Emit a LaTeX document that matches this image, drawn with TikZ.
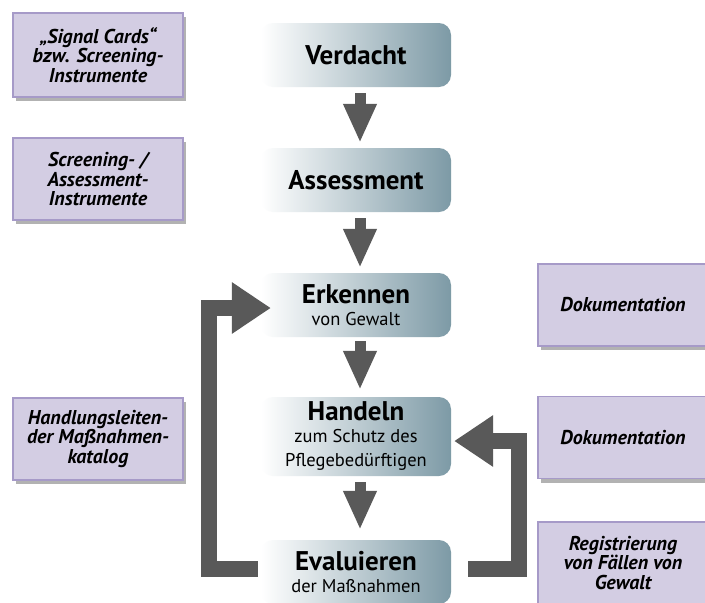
\documentclass[tikz,border=0pt]{standalone}
\usepackage{fontspec}
\setmainfont{PT Sans}
\usepackage{tikz}
\usetikzlibrary{arrows.meta,shadows}
\definecolor{Slate}{HTML}{7D9AA6}
\definecolor{Lilac}{HTML}{D3CDE3}
\definecolor{LilacEdge}{HTML}{A69AC8}
\definecolor{Graphite}{HTML}{595959}
\newcommand{\stagesub}{\fontsize{18.5}{21}\selectfont\mdseries}
\tikzset{
  stagebox/.style={rounded corners=12pt,minimum width=190pt,minimum height=64pt,align=center,
    inner sep=2pt,left color=white,right color=Slate,draw=none,
    font=\fontsize{27}{24}\selectfont\bfseries},
  notebox/.style={minimum width=170pt,minimum height=82pt,align=center,inner sep=2pt,
    fill=Lilac,draw=LilacEdge,line width=1.5pt,
    drop shadow={shadow xshift=3pt,shadow yshift=-4pt,fill=black,opacity=0.3},
    font=\fontsize{20}{19.5}\selectfont\bfseries\itshape},
  downflow/.style={-{Triangle[length=39pt,width=31pt]},line width=11pt,draw=Graphite},
  loopflow/.style={-{Triangle[length=39pt,width=49pt]},line width=16pt,draw=Graphite,line join=miter},
}

\begin{document}
\begin{tikzpicture}[x=1pt,y=-1pt]
    \useasboundingbox (0,0) rectangle (705,603);
    \clip (0,0) rectangle (705,603);
    \fill[white] (0,0) rectangle (705,603);

    % stages
    \node[stagebox] (verdacht) at (356,55) {Verdacht};
    \node[stagebox] (assessment) at (356,180) {Assessment};
    \node[stagebox] (erkennen) at (356,305) {Erkennen\\[-2pt]\stagesub von Gewalt};
    \node[stagebox,minimum height=79pt] (handeln) at (356,436.5) {Handeln\\[-2pt]\stagesub zum Schutz des\\\stagesub Pflegebedürftigen};
    \node[stagebox] (evaluieren) at (356,572) {Evaluieren\\[-2pt]\stagesub der Maßnahmen};

    % notes
    \node[notebox,minimum height=84pt] (signal) at (98,55) {„Signal Cards“\\bzw. Screening-\\Instrumente};
    \node[notebox] (screening) at (98,179) {Screening- /\\Assessment-\\Instrumente};
    \node[notebox] (handlung) at (98,439) {Handlungsleiten-\\der Maßnahmen-\\katalog};
    \node[notebox] (doku) at (623,305) {Dokumentation};
    \node[notebox] (dokuzwei) at (623,437.5) {Dokumentation};
    \node[notebox] (register) at (623,563) {Registrierung\\von Fällen von\\Gewalt};

    \draw[downflow] ([xshift=4pt,yshift=-6pt]verdacht.south) -- ([xshift=4pt,yshift=5pt]assessment.north);
    \draw[downflow] ([xshift=4pt,yshift=-6pt]assessment.south) -- ([xshift=4pt,yshift=5pt]erkennen.north);
    \draw[downflow] ([xshift=4pt,yshift=-4pt]erkennen.south) -- ([xshift=4pt,yshift=7pt]handeln.north);
    \draw[downflow] ([xshift=4pt,yshift=-6pt]handeln.south) -- ([xshift=4pt,yshift=10pt]evaluieren.north);

    % feedback loops
    \coordinate (loopL) at (209,440);
    \coordinate (loopR) at (519,500);
    \draw[loopflow] ([xshift=-3pt,yshift=3pt]evaluieren.west) -| (loopL) |- ([xshift=10pt,yshift=-3pt]erkennen.west);
    \draw[loopflow] ([xshift=17pt,yshift=3pt]evaluieren.east) -| (loopR) |- ([xshift=3pt,yshift=-4.5pt]handeln.east);
  \end{tikzpicture}
\end{document}
